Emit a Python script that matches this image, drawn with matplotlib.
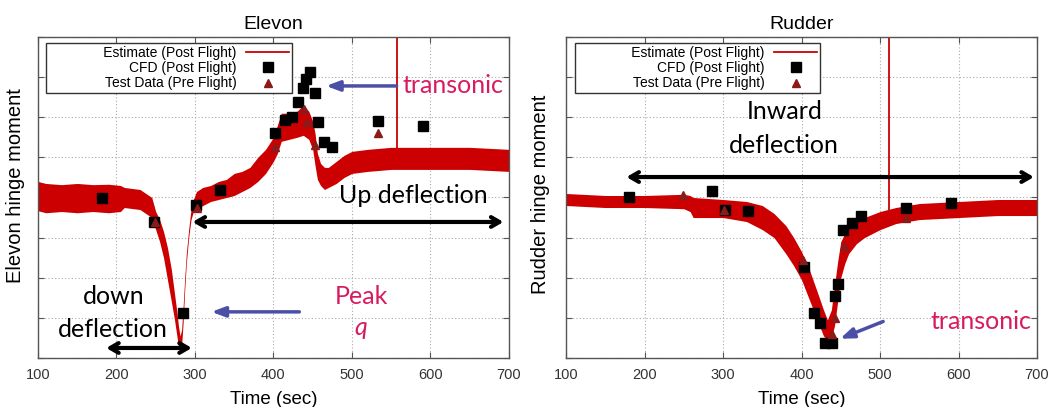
import numpy as np
import matplotlib.pyplot as plt
from matplotlib.lines import Line2D

# ---- Elevon data (y in grid units, 0..8, no labels on the axis) ----
elv_t = [100, 110, 130, 150, 170, 190, 205, 210, 230, 245, 250, 255, 260, 265, 270,
         274, 277, 279, 281, 283, 285, 287, 289, 292, 295, 298, 302, 310, 320, 330,
         340, 350, 360, 370, 380, 390, 400, 405, 410, 420, 430, 438, 445, 450, 453,
         456, 460, 465, 470, 480, 490, 500, 520, 550, 600, 650, 700]
elv_lo = [3.67, 3.62, 3.65, 3.62, 3.65, 3.62, 3.65, 3.75, 3.7, 3.5, 3.2, 2.9, 2.5, 1.95, 1.4,
          0.95, 0.55, 0.28, 0.25, 0.3, 0.9, 1.7, 2.35, 3.0, 3.45, 3.65, 3.7, 3.8, 3.9, 3.95,
          4.0, 4.05, 4.15, 4.25, 4.4, 4.6, 4.9, 5.1, 5.4, 5.45, 5.5, 5.55, 5.45, 5.2, 4.8,
          4.45, 4.3, 4.2, 4.25, 4.35, 4.5, 4.6, 4.65, 4.7, 4.7, 4.7, 4.65]
elv_hi = [4.4, 4.35, 4.32, 4.35, 4.32, 4.33, 4.3, 4.25, 4.2, 4.0, 3.65, 3.45, 3.15, 2.75, 2.2,
          1.6, 1.15, 0.8, 0.55, 0.7, 1.3, 2.0, 2.6, 3.2, 3.7, 3.95, 4.15, 4.25, 4.3, 4.4,
          4.45, 4.6, 4.65, 4.75, 5.0, 5.2, 5.5, 5.8, 6.1, 6.1, 6.15, 6.3, 6.15, 5.9, 5.6,
          5.1, 4.85, 4.75, 4.75, 4.9, 5.05, 5.15, 5.2, 5.25, 5.25, 5.25, 5.2]
elv_spike_t = 557
elv_spike_y = 5.2

elv_cfd_t = [181.6, 247.9, 285.3, 301.8, 331.6, 402.1, 415.3, 423.8, 431.4, 437.8,
             441.2, 446.3, 453.1, 456.5, 464.6, 475.2, 533.4, 590.8]
elv_cfd_y = [3.98, 3.39, 1.13, 3.81, 4.19, 5.6, 5.92, 6.0, 6.39, 6.72,
             6.96, 7.13, 6.61, 5.88, 5.38, 5.27, 5.9, 5.77]
elv_test_t = [249.1, 302.3, 402.1, 438.6, 442.5, 452.7, 533.4]
elv_test_y = [3.39, 3.75, 5.27, 6.21, 5.88, 5.32, 5.6]

# ---- Rudder data ----
rud_t = [100, 150, 200, 250, 258, 262, 300, 330, 350, 365, 380, 390, 400, 410, 420,
         428, 433, 438, 442, 446, 450, 455, 460, 470, 480, 500, 520, 550, 600, 650, 700]
rud_lo = [3.8, 3.75, 3.75, 3.72, 3.65, 3.5, 3.5, 3.4, 3.2, 3.0, 2.6, 2.3, 1.95, 1.45, 0.95,
          0.55, 0.45, 0.5, 0.8, 1.4, 2.0, 2.35, 2.6, 2.85, 3.0, 3.2, 3.35, 3.45, 3.5, 3.55, 3.55]
rud_hi = [4.1, 4.05, 4.05, 4.08, 4.05, 4.0, 3.95, 3.9, 3.8, 3.6, 3.3, 3.0, 2.65, 2.2, 1.65,
          1.2, 0.95, 1.2, 1.8, 2.4, 2.9, 3.1, 3.25, 3.4, 3.5, 3.65, 3.75, 3.85, 3.9, 3.95, 3.95]
rud_spike_t = 511
rud_spike_y = 3.7

rud_cfd_t = [180.7, 286.1, 302.7, 332.4, 402.9, 415.7, 423.3, 429.3, 439.1, 442.5,
             445.9, 452.7, 464.1, 475.6, 533.4, 590.3]
rud_cfd_y = [4.0, 4.16, 3.68, 3.66, 2.27, 1.13, 0.87, 0.38, 0.37, 1.55,
             1.85, 3.2, 3.36, 3.53, 3.75, 3.86]
rud_test_t = [248.7, 301.8, 402.5, 438.6, 442.1, 453.5, 533.4]
rud_test_y = [4.06, 3.7, 2.43, 0.6, 1.0, 2.78, 3.5]

xticks = [100, 200, 300, 400, 500, 600, 700]

RED = '#cc0000'
DARKRED = '#8b1a1a'
PINK = '#d81b60'
BLUE = '#4b4fa6'
NOTE_FONT = 'Lato'

plt.rcParams['font.family'] = ['Liberation Sans', 'DejaVu Sans']

fig = plt.figure(figsize=(10.6, 4.07), dpi=100)
ax1 = fig.add_axes([0.0358, 0.1204, 0.4443, 0.7887])
ax2 = fig.add_axes([0.534, 0.1204, 0.4443, 0.7887])


def draw_panel(ax, t, lo, hi, spike_t, spike_y, cfd_t, cfd_y, test_t, test_y,
               title, ylabel, ylab_xy):
    ax.fill_between(t, lo, hi, color=RED, lw=0, zorder=2)
    ax.plot([spike_t, spike_t], [spike_y, 8], color=RED, lw=1.3, zorder=2)
    cfd, = ax.plot(cfd_t, cfd_y, 's', color='black', ms=7, zorder=3, ls='none')
    tst, = ax.plot(test_t, test_y, '^', color=DARKRED, ms=6, zorder=4, ls='none')
    ax.set_xlim(100, 700)
    ax.set_ylim(0, 8)
    ax.set_xticks(xticks)
    ax.set_yticks(range(0, 9))
    ax.set_yticklabels([])
    ax.tick_params(direction='in', top=True, right=True, length=4, width=0.8,
                   color='#555555', labelsize=10.5, labelcolor='#333333', pad=7)
    ax.grid(True, ls=(0, (1, 2)), color='#aaaaaa', lw=0.8)
    for s in ax.spines.values():
        s.set_color('#555555')
        s.set_linewidth(1.0)
    ax.set_title(title, fontsize=14, pad=6)
    ax.set_xlabel('Time (sec)', fontsize=13.5, labelpad=7)
    ax.set_ylabel(ylabel, fontsize=14.5)
    ax.yaxis.set_label_coords(*ylab_xy)
    est_h = Line2D([], [], color=RED, lw=1.3)
    leg = ax.legend([est_h, cfd, tst],
                    ['              Estimate (Post Flight)', 'CFD (Post Flight)', 'Test Data (Pre Flight)'],
                    loc='upper left', bbox_to_anchor=(0.018, 0.98), markerfirst=False,
                    fontsize=10, frameon=True, fancybox=False, edgecolor='#333333',
                    framealpha=1, handlelength=3.1, handletextpad=0.7,
                    labelspacing=0.08, borderpad=0.2, borderaxespad=0)
    leg.get_frame().set_linewidth(1.0)


draw_panel(ax1, elv_t, elv_lo, elv_hi, elv_spike_t, elv_spike_y,
           elv_cfd_t, elv_cfd_y, elv_test_t, elv_test_y, 'Elevon', 'Elevon hinge moment',
           (-0.028, 0.536))
draw_panel(ax2, rud_t, rud_lo, rud_hi, rud_spike_t, rud_spike_y,
           rud_cfd_t, rud_cfd_y, rud_test_t, rud_test_y, 'Rudder', 'Rudder hinge moment',
           (-0.034, 0.511))

# ---- Elevon annotations ----
dbl = dict(arrowstyle='<->,head_length=0.6,head_width=0.35', color='black', lw=3,
           shrinkA=0, shrinkB=0)
ax1.annotate('', xy=(297, 3.39), xytext=(693, 3.39), arrowprops=dbl, zorder=5)
ax1.annotate('', xy=(187, 0.25), xytext=(296, 0.25), arrowprops=dbl, zorder=5)
ax1.text(578, 4.04, 'Up deflection', fontsize=18, family=NOTE_FONT, ha='center', va='center')
ax1.text(196, 1.54, 'down', fontsize=18, family=NOTE_FONT, ha='center', va='center')
ax1.text(196, 0.72, 'deflection', fontsize=18, family=NOTE_FONT, ha='center', va='center')
ax1.text(512, 1.54, 'Peak', fontsize=18, family=NOTE_FONT, ha='center', va='center', color=PINK)
ax1.text(511, 0.75, 'q', fontsize=18, family=NOTE_FONT, style='italic', ha='center',
         va='center', color=PINK)
ax1.text(629, 6.78, 'transonic', fontsize=18, family=NOTE_FONT, ha='center', va='center', color=PINK)
blue = dict(arrowstyle='-|>,head_length=0.8,head_width=0.3', color=BLUE, lw=2.5,
            shrinkA=0, shrinkB=0)
ax1.annotate('', xy=(321, 1.15), xytext=(433, 1.15), arrowprops=blue, zorder=5)
ax1.annotate('', xy=(467, 6.78), xytext=(557, 6.78), arrowprops=blue, zorder=5)

# ---- Rudder annotations ----
ax2.annotate('', xy=(177, 4.51), xytext=(696, 4.51), arrowprops=dbl, zorder=5)
ax2.text(378, 6.15, 'Inward', fontsize=18, family=NOTE_FONT, ha='center', va='center')
ax2.text(378, 5.3, 'deflection', fontsize=18, family=NOTE_FONT, ha='center', va='center')
ax2.text(628, 0.9, 'transonic', fontsize=18, family=NOTE_FONT, ha='center', va='center', color=PINK)
ax2.annotate('', xy=(449, 0.48), xytext=(504, 0.91), arrowprops=blue, zorder=5)

fig.savefig('out.png', dpi=100)
